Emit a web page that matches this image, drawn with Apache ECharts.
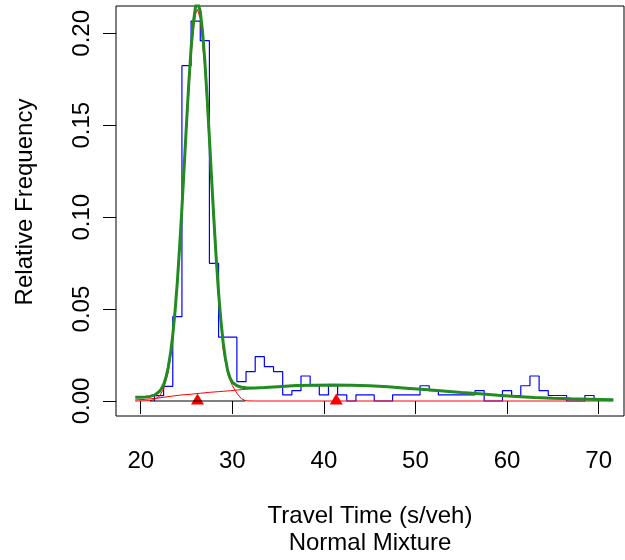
<!DOCTYPE html>
<html>
  <head>
    <meta charset="utf-8" />
    <title>Travel time - normal mixture</title>
    <script src="https://cdn.jsdelivr.net/npm/echarts@6.0.0/dist/echarts.min.js"></script>
    <style>
      html, body { margin: 0; padding: 0; background: #fff; }
    </style>
  </head>
  <body>
    <div id="chart" style="width: 625px; height: 560px"></div>

    <script type="text/javascript">
// Histogram: bin centres (1 s/veh wide) and relative frequency
const binMid = [22, 23, 24, 25, 26, 27, 28, 29, 30, 31, 32, 33, 34, 35, 36, 37, 38, 39, 40,
  41, 42, 43, 44, 45, 46, 47, 48, 49, 50, 51, 52, 53, 54, 55, 56, 57, 58, 59, 60,
  61, 62, 63, 64, 65, 66, 67, 68, 69];
const binFreq = [0.0029, 0.0080, 0.0459, 0.1824, 0.2067, 0.1960, 0.0749, 0.0347, 0.0347, 0.0105,
  0.0160, 0.0241, 0.0187, 0.0160, 0.0033, 0.0056, 0.0136, 0.0083, 0.0033,
  0.0083, 0.0033, 0, 0.0033, 0.0033, 0, 0, 0.0033, 0.0033, 0.0033, 0.0083,
  0.0056, 0.0033, 0.0033, 0.0033, 0.0033, 0.0056, 0, 0, 0.0056,
  0.0030, 0.0083, 0.0136, 0.0056, 0.0030, 0.0030, 0, 0, 0.0030];

// Fitted mixture density (green)
const mixX = [19.4, 20, 20.5, 21, 21.5, 22, 22.25, 22.5, 22.75, 23, 23.25, 23.5, 23.75, 24,
  24.25, 24.5, 24.75, 25, 25.25, 25.5, 25.75, 26, 26.2, 26.5, 26.75, 27, 27.25, 27.5,
  27.75, 28, 28.25, 28.5, 28.75, 29, 29.25, 29.5, 29.75, 30, 30.5, 31, 31.5, 32.5,
  33.5, 35, 37, 39, 41, 43, 45, 47, 49, 51, 53, 55, 57, 59, 61, 63, 65, 67, 69, 71.6];
const mixY = [0.0020, 0.0021, 0.0022, 0.0025, 0.0032, 0.0050, 0.0066, 0.0090, 0.0128, 0.0182,
  0.0258, 0.0360, 0.0490, 0.0650, 0.0840, 0.1050, 0.1280, 0.1510, 0.1730, 0.1920,
  0.2060, 0.2150, 0.2170, 0.2120, 0.2010, 0.1850, 0.1650, 0.1430, 0.1200, 0.0980,
  0.0770, 0.0590, 0.0440, 0.0320, 0.0230, 0.0165, 0.0125, 0.0102, 0.0083, 0.0075,
  0.0072, 0.0071, 0.0073, 0.0078, 0.0084, 0.0086, 0.0087, 0.0086, 0.0083, 0.0077,
  0.0070, 0.0062, 0.0054, 0.0046, 0.0039, 0.0031, 0.0024, 0.0019, 0.0015, 0.0012,
  0.0010, 0.0007];

// Component 1 (narrow, red)
const comp1X = [19.4, 21, 21.5, 22, 22.5, 23, 23.5, 24, 24.5, 25, 25.5, 25.75, 26, 26.2, 26.5,
  27, 27.5, 28, 28.5, 29, 29.5, 30, 30.5, 31, 31.5, 32.5, 71.6];
const comp1Y = [0, 0.0002, 0.0008, 0.0024, 0.0065, 0.0156, 0.0332, 0.0620, 0.1019, 0.1475,
  0.1880, 0.2023, 0.2108, 0.2130, 0.2081, 0.1810, 0.1384, 0.0932, 0.0553, 0.0280,
  0.0145, 0.0085, 0.0042, 0.0012, 0.0001, 0, 0];

// Component 2 (broad, red)
const comp2X = [19.4, 20.5, 21.5, 22.5, 23.5, 24.5, 25.5, 26.5, 27.5, 28.5, 29.8, 31, 32, 33,
  35, 37, 39, 41, 43, 45, 47, 49, 51, 53, 55, 57, 59, 61, 63, 65, 67, 69, 71.6];
const comp2Y = [0.0006, 0.0009, 0.0014, 0.0020, 0.0027, 0.0033, 0.0037, 0.0042, 0.0047, 0.0051,
  0.0056, 0.0062, 0.0066, 0.0070, 0.0077, 0.0083, 0.0086, 0.0087, 0.0086, 0.0083,
  0.0077, 0.0070, 0.0062, 0.0054, 0.0046, 0.0039, 0.0031, 0.0024, 0.0019, 0.0015,
  0.0012, 0.0010, 0.0007];

// Component means (triangles) and the short black baseline
const meanX = [26.2, 41.35];
const baseX = [21.0, 31.4];

const xTicks = [20, 30, 40, 50, 60, 70];
const yTicks = [0, 0.05, 0.10, 0.15, 0.20];

const font = '"Liberation Sans", Arial, sans-serif';

// Step outline of the histogram, from bin left edges
const histData = [[binMid[0] - 0.5, 0]];
binMid.forEach((m, i) => histData.push([m - 0.5, binFreq[i]]));
histData.push([binMid[binMid.length - 1] + 0.5, 0]);

const zip = (xs, ys) => xs.map((x, i) => [x, ys[i]]);

const option = {
  animation: false,
  backgroundColor: '#fff',
  grid: {
    left: 116, top: 6, width: 508, height: 410,
    show: true, borderColor: '#000', borderWidth: 1,
    outerBoundsMode: 'none'
  },
  xAxis: {
    type: 'value', min: 17.3, max: 72.77,
    axisLine: { show: false },
    splitLine: { show: false },
    axisTick: { show: true, length: 13, customValues: xTicks, lineStyle: { color: '#000' } },
    axisLabel: { customValues: xTicks, margin: 33, fontSize: 24, color: '#000', fontFamily: font },
    name: 'Travel Time (s/veh)\nNormal Mixture',
    nameLocation: 'middle',
    nameGap: 87,
    nameTextStyle: { fontSize: 24, lineHeight: 27, color: '#000', fontFamily: font }
  },
  yAxis: {
    type: 'value', min: -0.00816, max: 0.21488,
    axisLine: { show: false },
    splitLine: { show: false },
    axisTick: { show: true, length: 13, customValues: yTicks, lineStyle: { color: '#000' } },
    axisLabel: {
      customValues: yTicks, rotate: 90, margin: 22, fontSize: 24, color: '#000', fontFamily: font,
      formatter: (v) => v.toFixed(2)
    },
    name: 'Relative Frequency',
    nameLocation: 'middle',
    nameRotate: 90,
    nameGap: 79,
    // nudge the title up to where R's mtext sits
    nameTextStyle: { fontSize: 24, color: '#000', fontFamily: font, padding: [0, 0, 0, 18] }
  },
  series: [
    {
      name: 'histogram', type: 'line', step: 'end', data: histData,
      showSymbol: false, lineStyle: { color: '#0000FF', width: 1.2 }
    },
    {
      name: 'component 1', type: 'line', data: zip(comp1X, comp1Y),
      showSymbol: false, itemStyle: { color: '#FF0000' }, lineStyle: { color: '#FF0000', width: 1 }
    },
    {
      name: 'component 2', type: 'line', data: zip(comp2X, comp2Y),
      showSymbol: false, itemStyle: { color: '#FF0000' }, lineStyle: { color: '#FF0000', width: 1 }
    },
    {
      name: 'baseline', type: 'line', data: baseX.map((x) => [x, 0]),
      showSymbol: false, lineStyle: { color: '#000', width: 1 }
    },
    {
      name: 'mixture', type: 'line', data: zip(mixX, mixY),
      showSymbol: false, lineStyle: { color: '#228B22', width: 3 }
    },
    {
      name: 'means', type: 'scatter', data: meanX.map((x) => [x, 0]),
      symbol: 'triangle', symbolSize: [13, 11], symbolOffset: [0, -2],
      itemStyle: { color: '#FF0000', opacity: 1 }
    }
  ]
};

const chart = echarts.init(document.getElementById('chart'));
chart.setOption(option);
    </script>
  </body>
</html>
